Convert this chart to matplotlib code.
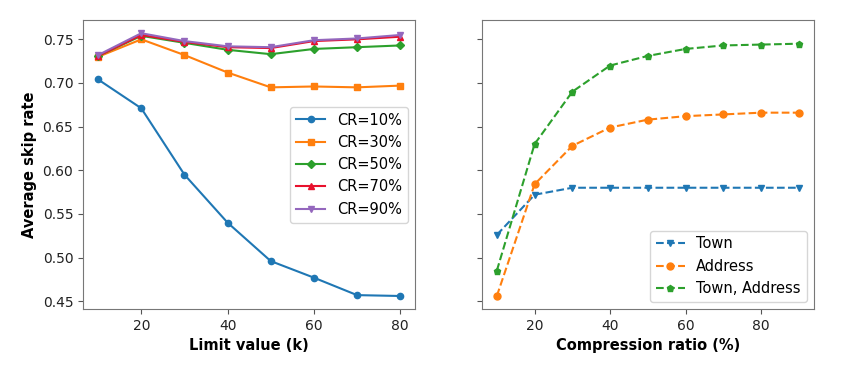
import matplotlib
matplotlib.use("Agg")
import matplotlib.pyplot as plt

# left panel: skip rate vs limit value
limit_k = [10, 20, 30, 40, 50, 60, 70, 80]
cr_labels = ["CR=10%", "CR=30%", "CR=50%", "CR=70%", "CR=90%"]
cr10 = [0.704, 0.671, 0.595, 0.540, 0.496, 0.477, 0.457, 0.456]
cr30 = [0.730, 0.750, 0.732, 0.712, 0.695, 0.696, 0.695, 0.697]
cr50 = [0.731, 0.754, 0.746, 0.738, 0.733, 0.739, 0.741, 0.743]
cr70 = [0.731, 0.755, 0.747, 0.741, 0.740, 0.748, 0.750, 0.753]
cr90 = [0.732, 0.757, 0.748, 0.742, 0.741, 0.749, 0.751, 0.755]

# right panel: skip rate vs compression ratio
ratio = [10, 20, 30, 40, 50, 60, 70, 80, 90]
town = [0.526, 0.572, 0.580, 0.580, 0.580, 0.580, 0.580, 0.580, 0.580]
address = [0.456, 0.584, 0.628, 0.649, 0.658, 0.662, 0.664, 0.666, 0.666]
town_address = [0.485, 0.630, 0.690, 0.720, 0.731, 0.739, 0.743, 0.744, 0.745]

plt.rcParams["font.size"] = 10
plt.rcParams["axes.edgecolor"] = "#777777"
plt.rcParams["xtick.color"] = "#555555"
plt.rcParams["ytick.color"] = "#555555"
plt.rcParams["xtick.labelcolor"] = "#222222"
plt.rcParams["ytick.labelcolor"] = "#222222"

fig, (ax1, ax2) = plt.subplots(1, 2, figsize=(8.65, 3.72), dpi=100, sharey=True)
fig.subplots_adjust(left=0.096, right=0.941, top=0.946, bottom=0.169, wspace=0.2)

series = [cr10, cr30, cr50, cr70, cr90]
markers = ["o", "s", "D", "^", "v"]
colors = ["#1f77b4", "#ff7f0e", "#2ca02c", "#e8112d", "#9467bd"]
sizes = [4.5, 5, 4, 4.5, 5]
for vals, lab, m, c, ms in zip(series, cr_labels, markers, colors, sizes):
    ax1.plot(limit_k, vals, marker=m, color=c, label=lab, markersize=ms, linewidth=1.5)
ax1.set_xlabel("Limit value (k)", fontweight="bold", fontsize=10.5)
ax1.set_ylabel("Average skip rate", fontweight="bold", fontsize=10.5)
ax1.set_xticks([20, 40, 60, 80])
ax1.legend(loc="center right", fontsize=10.5)

ax2.plot(ratio, town, "--", marker="v", color="#1f77b4", label="Town", markersize=5)
ax2.plot(ratio, address, "--", marker="o", color="#ff7f0e", label="Address", markersize=5)
ax2.plot(ratio, town_address, "--", marker="p", color="#2ca02c", label="Town, Address", markersize=5)
ax2.set_xlabel("Compression ratio (%)", fontweight="bold", fontsize=10.5)
ax2.set_xticks([20, 40, 60, 80])
ax2.tick_params(labelleft=False)
ax2.legend(loc="lower right", fontsize=10.5)

ax1.set_yticks([0.45, 0.50, 0.55, 0.60, 0.65, 0.70, 0.75])

fig.savefig("out.png")
